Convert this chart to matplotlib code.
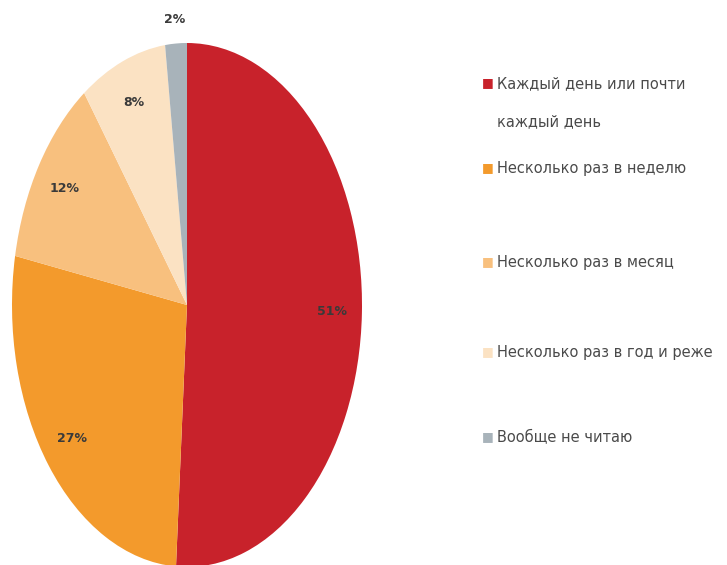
import matplotlib
matplotlib.use('Agg')
import matplotlib.pyplot as plt
import numpy as np

# data
categories = ['Каждый день или почти\nкаждый день', 'Несколько раз в неделю',
              'Несколько раз в месяц', 'Несколько раз в год и реже', 'Вообще не читаю']
shares = [51, 27, 12, 8, 2]
colors = ['#C8222B', '#F39A2C', '#F8C07E', '#FBE2C3', '#A8B3BA']
legend_y = [83, 168, 262, 352, 437]   # pixel rows of legend entries

W, H = 727, 565
fig = plt.figure(figsize=(W / 100, H / 100), dpi=100)

# pie axes, stretched so the pie becomes an ellipse
ax = fig.add_axes([12 / W, (H - 567) / H, 350 / W, 524 / H])
wedges, texts, autotexts = ax.pie(shares, colors=colors, startangle=90, counterclock=False,
                                  autopct='%d%%', pctdistance=0.83,
                                  textprops={'fontsize': 9, 'color': '#3a3a3a',
                                             'fontweight': 'bold'})
ax.set_xlim(-1, 1)
ax.set_ylim(-1, 1)
ax.set_aspect('auto')
ax.axis('off')

# small slice label goes outside
w = wedges[-1]
mid = np.deg2rad((w.theta1 + w.theta2) / 2)
autotexts[-1].set_position((1.09 * np.cos(mid), 1.09 * np.sin(mid)))

# legend drawn by hand
for cat, col, y in zip(categories, colors, legend_y):
    fy = 1 - y / H
    fig.text(488 / W, fy, '■', color=col, fontsize=9, ha='center', va='center')
    fig.text(497 / W, fy + 7 / H, cat, color='#4a4a4a', fontsize=10.5, ha='left', va='top',
             linespacing=2.9)

fig.savefig('out.png', dpi=100)
